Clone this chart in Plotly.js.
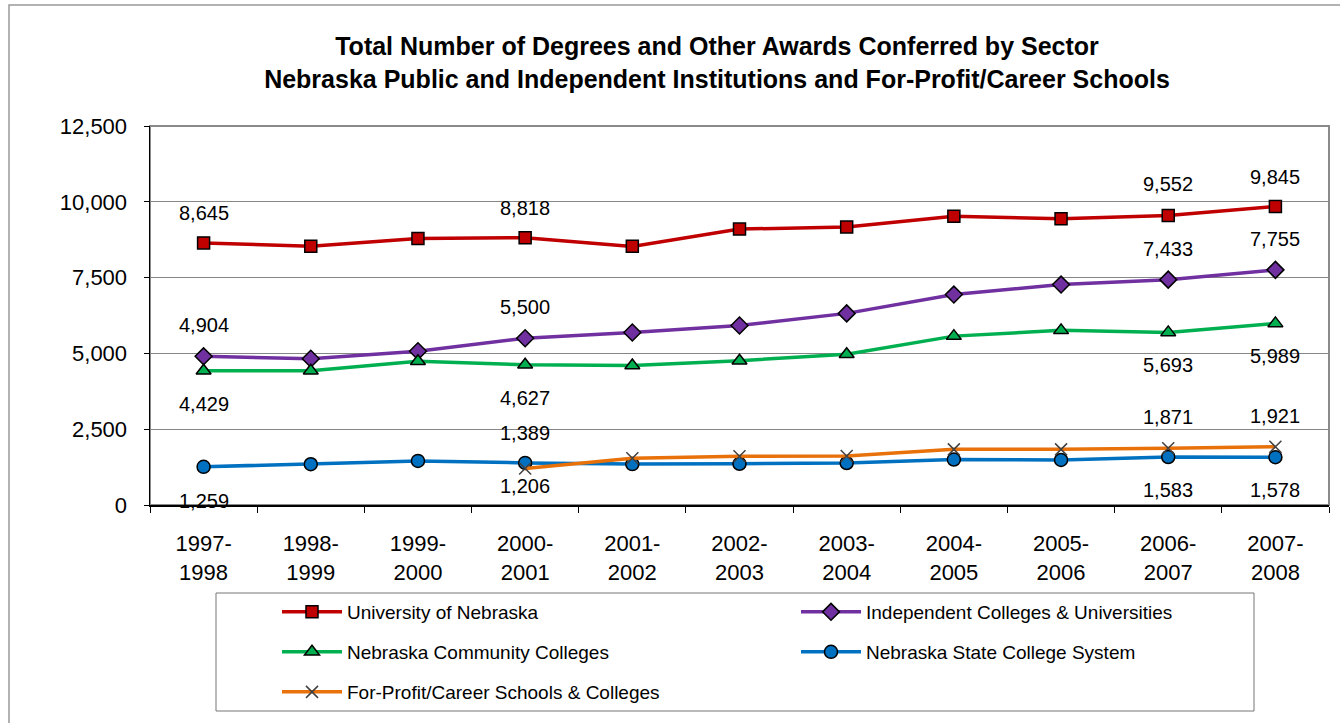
<!DOCTYPE html>
<html>
<head>
<meta charset="utf-8">
<script src="https://cdn.plot.ly/plotly-3.0.1.min.js"></script>
<style>html,body{margin:0;padding:0;background:#fff}#chart{width:1340px;height:723px}</style>
</head>
<body>
<div id="chart"></div>
<script>
// ---- data ----
const years = ["1997-1998","1998-1999","1999-2000","2000-2001","2001-2002","2002-2003","2003-2004","2004-2005","2005-2006","2006-2007","2007-2008"];
const yearLabels = ["1997-<br>1998","1998-<br>1999","1999-<br>2000","2000-<br>2001","2001-<br>2002","2002-<br>2003","2003-<br>2004","2004-<br>2005","2005-<br>2006","2006-<br>2007","2007-<br>2008"];
const universityOfNebraska = [8645, 8530, 8790, 8818, 8530, 9100, 9170, 9520, 9440, 9552, 9845];
const independentColleges = [4904, 4825, 5070, 5500, 5690, 5920, 6320, 6940, 7270, 7433, 7755];
const communityColleges = [4429, 4430, 4740, 4627, 4600, 4760, 4970, 5570, 5760, 5693, 5989];
const stateCollegeSystem = [1259, 1345, 1455, 1389, 1350, 1360, 1385, 1500, 1485, 1583, 1578];
const forProfitSchools = [null, null, null, 1206, 1545, 1610, 1615, 1835, 1835, 1871, 1921];
const seriesNames = ["University of Nebraska","Independent Colleges & Universities","Nebraska Community Colleges","Nebraska State College System","For-Profit/Career Schools & Colleges"];
const labelIndices = [0, 3, 9, 10];
// ---- styling ----
const FONT = '"Liberation Sans", Arial, sans-serif';
const L = 150, R = 1329, T = 126, B = 505, W = 1340, H = 723;
const px = x => (x - L) / (R - L);
const py = y => (B - y) / (B - T);
// label pixel shifts (positive = above the point), one per labelled index
const series = [
  {y: universityOfNebraska, color:'#C00000', symbol:'square', size:12, shift:[30,30,31,30], lx:277, ly:612},
  {y: independentColleges, color:'#7030A0', symbol:'diamond', size:13, shift:[31,31,31,31], lx:796, ly:612},
  {y: communityColleges, color:'#00B050', symbol:'triangle-up', size:13, shift:[-33,-33,-33,-33], lx:277, ly:652},
  {y: stateCollegeSystem, color:'#0070C0', symbol:'circle', size:13, shift:[-34,30,-33,-33], lx:796, ly:652},
  {y: forProfitSchools, color:'#E8710A', symbol:'x-thin-open', size:12, shift:[0,-18,31,31], lx:277, ly:692}
];
const legendKeys = ['legend','legend2','legend3','legend4','legend5'];
const traces = series.map((s, i) => ({
  type:'scatter', mode:'lines+markers', name: seriesNames[i], x: years, y: s.y,
  legend: legendKeys[i],
  line:{color:s.color, width:3.5},
  marker: s.symbol === 'x-thin-open'
    ? {symbol:s.symbol, size:s.size, color:'#404040', line:{color:'#404040', width:1.5}}
    : {symbol:s.symbol, size:s.size, color:s.color, line:{color:'#000', width:1.5}},
  connectgaps:false, hoverinfo:'skip', cliponaxis:false
}));
const annotations = [];
series.forEach(s => {
  labelIndices.forEach((idx, k) => {
    const v = s.y[idx];
    if (v === null) return;
    annotations.push({x: years[idx], y: v, xref:'x', yref:'y', text: v.toLocaleString('en-US'),
      showarrow:false, yshift: s.shift[k], font:{family:FONT, size:20, color:'#000'}});
  });
});
const shapes = [
  {type:'rect', xref:'paper', yref:'paper', x0:0, x1:1, y0:0, y1:1, line:{color:'#8a8a8a', width:2}, layer:'below'},
  {type:'rect', xref:'paper', yref:'paper', x0:px(9), x1:px(1350), y0:py(5), y1:py(740), line:{color:'#999', width:1.5}, layer:'below'},
  {type:'rect', xref:'paper', yref:'paper', x0:px(216), x1:px(1254), y0:py(593), y1:py(711), line:{color:'#777', width:1}, layer:'below'}
];
const layout = {
  width:W, height:H, paper_bgcolor:'#fff', plot_bgcolor:'#fff',
  margin:{l:L, r:W-R, t:T, b:H-B},
  font:{family:FONT, color:'#000'},
  title:{text:'<b>Total Number of Degrees and Other Awards Conferred by Sector<br>Nebraska Public and Independent Institutions and For-Profit/Career Schools</b>',
    font:{family:FONT, size:25, color:'#000'}, xref:'container', yref:'container', x:717/W, xanchor:'center', y:1-55/H, yanchor:'top'},
  xaxis:{type:'category', tickmode:'array', tickvals:years, ticktext:yearLabels, range:[-0.5,10.5],
    tickson:'boundaries', ticks:'outside', ticklen:6, tickcolor:'#000', showline:true, linecolor:'#000', linewidth:1.5,
    showgrid:false, tickfont:{family:FONT, size:22, color:'#000'}, ticklabelstandoff:18, fixedrange:true},
  yaxis:{range:[0,12500], tickmode:'linear', tick0:0, dtick:2500, tickformat:',d', ticks:'outside', ticklen:5, tickcolor:'#000',
    showline:true, linecolor:'#000', linewidth:1.5, showgrid:true, gridcolor:'#868686', gridwidth:1, zeroline:false,
    tickfont:{family:FONT, size:22, color:'#000'}, ticklabelstandoff:12, fixedrange:true},
  showlegend:true, shapes, annotations
};
series.forEach((s, i) => {
  layout[legendKeys[i]] = {orientation:'h', bgcolor:'rgba(0,0,0,0)', borderwidth:0, itemwidth:60,
    font:{family:FONT, size:19, color:'#000'}, xanchor:'left', yanchor:'middle', x:px(s.lx), y:py(s.ly)};
});
Plotly.newPlot('chart', traces, layout, {staticPlot:true, displayModeBar:false});
</script>
</body>
</html>
